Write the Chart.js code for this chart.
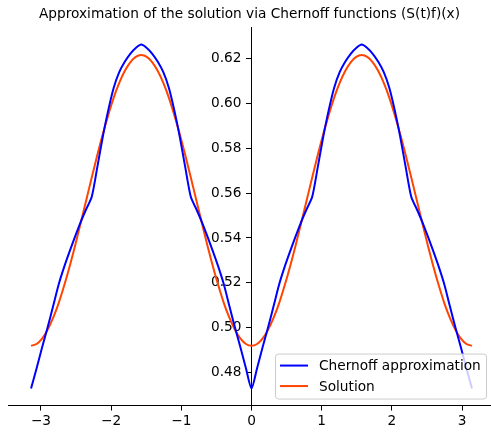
<!DOCTYPE html>
<html>
<head>
<meta charset="utf-8">
<script src="https://cdn.jsdelivr.net/npm/chart.js@4.4.1/dist/chart.umd.min.js"></script>
<style>
  html, body { margin: 0; padding: 0; background: #ffffff; }
  #wrap { width: 491px; height: 432px; }
</style>
</head>
<body>
<div id="wrap"><canvas id="chernoffChart" width="491" height="432"></canvas></div>
<script>
// x positions (-pi .. pi)
const xValues = [
  -3.1416, -3.0631, -2.9845, -2.9060, -2.8274, -2.7489, -2.6704, -2.5918, -2.5133, -2.4347,
  -2.3562, -2.2777, -2.1991, -2.1206, -2.0420, -1.9635, -1.8850, -1.8064, -1.7279, -1.6493,
  -1.5708, -1.4923, -1.4137, -1.3352, -1.2566, -1.1781, -1.0996, -1.0210, -0.9425, -0.8639,
  -0.7854, -0.7069, -0.6283, -0.5498, -0.4712, -0.3927, -0.3142, -0.2356, -0.1571, -0.0785,
  0,
  0.0785, 0.1571, 0.2356, 0.3142, 0.3927, 0.4712, 0.5498, 0.6283, 0.7069, 0.7854,
  0.8639, 0.9425, 1.0210, 1.0996, 1.1781, 1.2566, 1.3352, 1.4137, 1.4923, 1.5708,
  1.6493, 1.7279, 1.8064, 1.8850, 1.9635, 2.0420, 2.1206, 2.1991, 2.2777, 2.3562,
  2.4347, 2.5133, 2.5918, 2.6704, 2.7489, 2.8274, 2.9060, 2.9845, 3.0631, 3.1416
];

// Chernoff approximation (blue)
const chernoffValues = [
  0.4730, 0.4819, 0.4912, 0.5001, 0.5096, 0.5192, 0.5270, 0.5340, 0.5407, 0.5471,
  0.5528, 0.5582, 0.5712, 0.5848, 0.5968, 0.6069, 0.6138, 0.6184, 0.6220, 0.6246,
  0.6261, 0.6246, 0.6220, 0.6184, 0.6138, 0.6069, 0.5968, 0.5848, 0.5712, 0.5582,
  0.5528, 0.5471, 0.5407, 0.5340, 0.5270, 0.5192, 0.5096, 0.5001, 0.4912, 0.4819,
  0.4730,
  0.4819, 0.4912, 0.5001, 0.5096, 0.5192, 0.5270, 0.5340, 0.5407, 0.5471, 0.5528,
  0.5582, 0.5712, 0.5848, 0.5968, 0.6069, 0.6138, 0.6184, 0.6220, 0.6246, 0.6261,
  0.6246, 0.6220, 0.6184, 0.6138, 0.6069, 0.5968, 0.5848, 0.5712, 0.5582, 0.5528,
  0.5471, 0.5407, 0.5340, 0.5270, 0.5192, 0.5096, 0.5001, 0.4912, 0.4819, 0.4730
];

// exact solution (orange-red)
const solutionValues = [
  0.4920, 0.4928, 0.4952, 0.4991, 0.5044, 0.5109, 0.5187, 0.5273, 0.5367, 0.5466,
  0.5567, 0.5668, 0.5767, 0.5861, 0.5947, 0.6025, 0.6090, 0.6143, 0.6182, 0.6206,
  0.6214, 0.6206, 0.6182, 0.6143, 0.6090, 0.6025, 0.5947, 0.5861, 0.5767, 0.5668,
  0.5567, 0.5466, 0.5367, 0.5273, 0.5187, 0.5109, 0.5044, 0.4991, 0.4952, 0.4928,
  0.4920,
  0.4928, 0.4952, 0.4991, 0.5044, 0.5109, 0.5187, 0.5273, 0.5367, 0.5466, 0.5567,
  0.5668, 0.5767, 0.5861, 0.5947, 0.6025, 0.6090, 0.6143, 0.6182, 0.6206, 0.6214,
  0.6206, 0.6182, 0.6143, 0.6090, 0.6025, 0.5947, 0.5861, 0.5767, 0.5668, 0.5567,
  0.5466, 0.5367, 0.5273, 0.5187, 0.5109, 0.5044, 0.4991, 0.4952, 0.4928, 0.4920
];

const seriesLabels = ['Chernoff approximation', 'Solution'];
const seriesColors = ['#0000ff', '#ff4500'];
const chartTitle = 'Approximation of the solution via Chernoff functions (S(t)f)(x)';

const FONT_PX = 13.7;
Chart.defaults.font.family = "'DejaVu Sans', sans-serif";
Chart.defaults.font.size = FONT_PX;
Chart.defaults.color = '#000000';

function toPoints(values) {
  return xValues.map((x, i) => ({ x: x, y: values[i] }));
}

// y axis sits at x = 0, chart.js puts its labels right on the spine -> move them left
const shiftYLabels = {
  id: 'shiftYLabels',
  beforeDraw(chart) {
    const items = chart.scales.y.getLabelItems();
    items.forEach(item => {
      if (!item._shifted) {
        item.options.translation[0] -= 10;
        item._shifted = true;
      }
    });
  }
};

// legend box in the lower right corner of the plot (matplotlib style)
const cornerLegend = {
  id: 'cornerLegend',
  afterDatasetsDraw(chart) {
    const ctx = chart.ctx;
    const area = chart.chartArea;
    const boxW = 211, boxH = 45;
    const bx = area.right - boxW - 5;
    const by = area.bottom - boxH - 7;
    ctx.save();
    ctx.beginPath();
    ctx.roundRect(bx + 0.5, by + 0.5, boxW, boxH, 3);
    ctx.fillStyle = 'rgba(255,255,255,0.8)';
    ctx.fill();
    ctx.strokeStyle = '#cccccc';
    ctx.lineWidth = 1;
    ctx.stroke();
    ctx.font = FONT_PX + "px 'DejaVu Sans', sans-serif";
    ctx.textBaseline = 'middle';
    chart.data.datasets.forEach((ds, i) => {
      const ly = by + 12 + i * 20.5;
      ctx.beginPath();
      ctx.moveTo(bx + 5, ly);
      ctx.lineTo(bx + 33, ly);
      ctx.strokeStyle = ds.borderColor;
      ctx.lineWidth = 2;
      ctx.stroke();
      ctx.fillStyle = '#000000';
      ctx.fillText(ds.label, bx + 44, ly + 1);
    });
    ctx.restore();
  }
};

const ctx = document.getElementById('chernoffChart').getContext('2d');
const chernoffChart = new Chart(ctx, {
  type: 'line',
  data: {
    datasets: [
      {
        label: seriesLabels[0],
        data: toPoints(chernoffValues),
        borderColor: seriesColors[0],
        borderWidth: 2,
        pointRadius: 0,
        tension: 0.25,
        fill: false
      },
      {
        label: seriesLabels[1],
        data: toPoints(solutionValues),
        borderColor: seriesColors[1],
        borderWidth: 2,
        pointRadius: 0,
        tension: 0.25,
        fill: false
      }
    ]
  },
  options: {
    responsive: false,
    animation: false,
    devicePixelRatio: 1,
    layout: { padding: { left: 8, right: 0, top: 0, bottom: 0 } },
    plugins: {
      legend: { display: false },
      tooltip: { enabled: false },
      title: {
        display: true,
        text: chartTitle,
        fullSize: false,
        color: '#000000',
        font: { size: FONT_PX, weight: 'normal' },
        padding: { top: 5.8, bottom: 4.8 }
      }
    },
    scales: {
      x: {
        type: 'linear',
        position: 'bottom',
        min: -3.47,
        max: 3.413,
        grid: { display: true, drawOnChartArea: false, drawTicks: true, tickLength: 5, color: '#000000' },
        border: { display: true, color: '#000000', width: 1 },
        ticks: {
          stepSize: 1,
          includeBounds: false,
          padding: 2.5,
          maxRotation: 0,
          callback: v => String(v).replace('-', '\u2212')
        }
      },
      y: {
        type: 'linear',
        position: { x: 0 },
        min: 0.4654,
        max: 0.6339,
        grid: { display: true, drawOnChartArea: false, drawTicks: true, tickLength: 5, color: '#000000' },
        border: { display: true, color: '#000000', width: 1 },
        ticks: {
          stepSize: 0.02,
          includeBounds: false,
          callback: v => Number(v).toFixed(2)
        }
      }
    }
  },
  plugins: [shiftYLabels, cornerLegend]
});
</script>
</body>
</html>
